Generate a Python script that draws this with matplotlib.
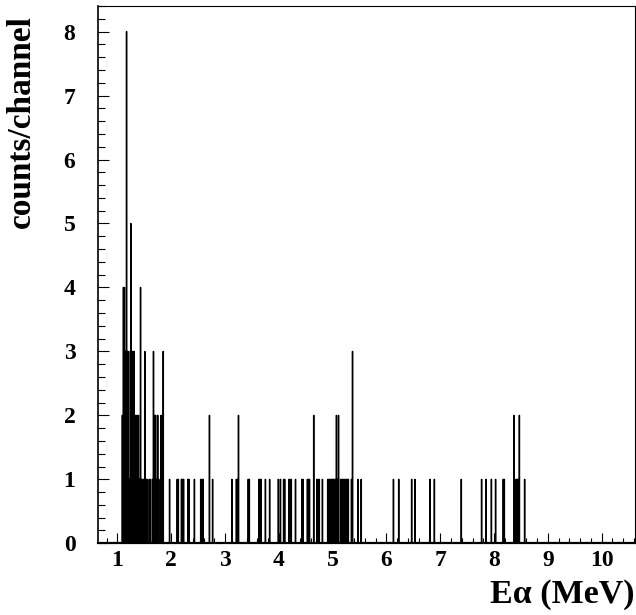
import numpy as np
import matplotlib
matplotlib.use("Agg")
import matplotlib.pyplot as plt
from matplotlib.ticker import MultipleLocator

# ---- data: nonzero channels (bin centre in MeV) and their counts ----
energies_low = [1.09, 1.11, 1.13, 1.15, 1.17, 1.19, 1.21, 1.23, 1.25, 1.27,
                1.29, 1.31, 1.33, 1.35, 1.37, 1.39, 1.41, 1.43, 1.45, 1.47,
                1.49, 1.51, 1.53, 1.55, 1.59, 1.61, 1.65, 1.67, 1.69, 1.71,
                1.73, 1.75, 1.77, 1.81, 1.83, 1.85, 1.97]
counts_low = [2, 4, 4, 3, 8, 3, 3, 1, 5, 3,
              3, 3, 2, 2, 2, 2, 1, 4, 1, 1,
              1, 3, 1, 1, 1, 1, 1, 3, 2, 2,
              1, 2, 1, 2, 2, 3, 1]

energies_mid = [2.11, 2.13, 2.19, 2.21, 2.23, 2.31, 2.33, 2.43, 2.55, 2.57,
                2.59, 2.71, 2.77, 3.13, 3.21, 3.23, 3.25, 3.43, 3.45, 3.63,
                3.65, 3.67, 3.75, 3.83, 3.99, 4.03, 4.09, 4.11, 4.19, 4.21,
                4.23, 4.31, 4.43, 4.45, 4.53, 4.55, 4.57, 4.65, 4.71, 4.73,
                4.75, 4.81, 4.91, 4.93, 4.95, 4.97, 4.99, 5.01, 5.03, 5.05,
                5.07, 5.09, 5.11, 5.15, 5.17, 5.19, 5.21, 5.23, 5.25, 5.27,
                5.29, 5.35, 5.37, 5.47, 5.53]
counts_mid = [1, 1, 1, 1, 1, 1, 1, 1, 1, 1,
              1, 2, 1, 1, 1, 1, 2, 1, 1, 1,
              1, 1, 1, 1, 1, 1, 1, 1, 1, 1,
              1, 1, 1, 1, 1, 1, 1, 2, 1, 1,
              1, 1, 1, 1, 1, 1, 1, 1, 1, 1,
              2, 1, 2, 1, 1, 1, 1, 1, 1, 1,
              1, 1, 3, 1, 1]

energies_high = [6.13, 6.23, 6.47, 6.53, 6.81, 6.89, 7.39, 7.77, 7.85, 7.95,
                 8.03, 8.17, 8.19, 8.37, 8.41, 8.43, 8.45, 8.47, 8.57]
counts_high = [1, 1, 1, 1, 1, 1, 1, 1, 1, 1,
               1, 1, 1, 2, 1, 1, 1, 2, 1]

x_ticks = [1, 2, 3, 4, 5, 6, 7, 8, 9, 10]
y_ticks = [0, 1, 2, 3, 4, 5, 6, 7, 8]

# ---- histogram (0.01 MeV channels) ----
edges = 0.625 + 0.01 * np.arange(0, 1001)
energies = np.array(energies_low + energies_mid + energies_high)
counts = np.array(counts_low + counts_mid + counts_high, dtype=float)
hist, _ = np.histogram(energies, bins=edges, weights=counts)

FONT = "Liberation Serif"

fig = plt.figure(figsize=(6.36, 6.15), dpi=100)
ax = fig.add_axes([0.1536, 0.1166, 0.8448, 0.8736])

ax.stairs(hist, edges, color="black", linewidth=0.9, baseline=0)

ax.set_xlim(0.633, 10.62)
ax.set_ylim(0, 8.4)

ax.set_xticks(x_ticks)
ax.set_yticks(y_ticks)
ax.xaxis.set_minor_locator(MultipleLocator(0.2))
ax.yaxis.set_minor_locator(MultipleLocator(0.2))

ax.tick_params(axis="both", which="both", direction="in", color="black",
               width=0.8, top=False, right=False)
ax.tick_params(axis="x", which="major", length=7.2, pad=5)
ax.tick_params(axis="x", which="minor", length=3.8)
ax.tick_params(axis="y", which="major", length=7.7, pad=16)
ax.tick_params(axis="y", which="minor", length=4.8)

for lab in ax.get_xticklabels() + ax.get_yticklabels():
    lab.set_fontfamily(FONT)
    lab.set_fontweight("bold")
    lab.set_fontsize(17)

ax.spines["bottom"].set_linewidth(1.6)
ax.spines["left"].set_linewidth(1.2)
ax.spines["top"].set_linewidth(0.8)
ax.spines["right"].set_linewidth(0.8)

fig.text(0.034, 0.803, "counts/channel", rotation=90, ha="center", va="center",
         fontfamily=FONT, fontweight="bold", fontsize=24)
fig.text(0.998, 0.0195, "E\u03b1 (MeV)", ha="right", va="baseline",
         fontfamily=FONT, fontweight="bold", fontsize=24.5)

fig.savefig("out.png", dpi=100)
